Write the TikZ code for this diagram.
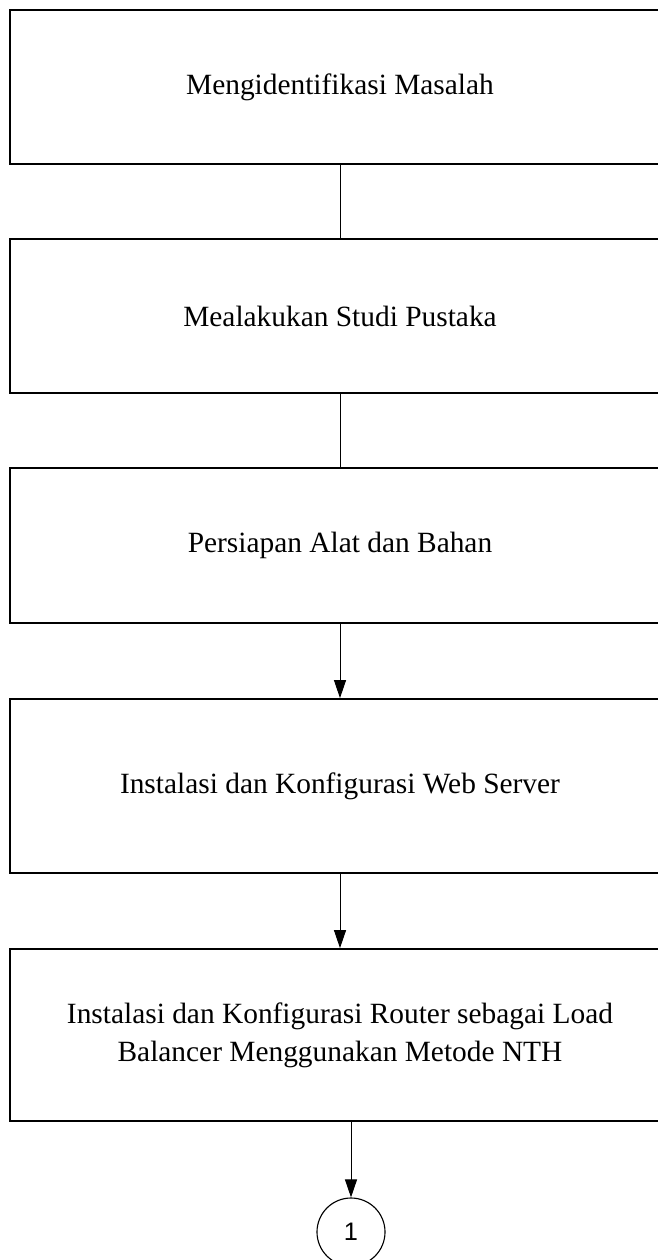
\documentclass[tikz,border=0pt]{standalone}
\usepackage{fontspec}
\setmainfont{Liberation Serif}
\newfontfamily\circfont{Liberation Sans}
\usetikzlibrary{arrows.meta,shapes,calc,positioning}

\begin{document}
\begin{tikzpicture}[x=0.025cm,y=-0.025cm]
		\tikzstyle{every node}=[font=\fontsize{20.9}{27}\selectfont]
		\tikzstyle{stepbox}=[draw, line width=1.2pt, rectangle, inner sep=0pt, minimum width=16.5cm, align=center]
		\tikzstyle{link}=[line width=0.7pt]
		\tikzstyle{arrowlink}=[line width=0.7pt, -{Triangle[width=0.3cm,length=0.45cm]}]
		\useasboundingbox (0,0) rectangle (657,1260);
		\node [stepbox, minimum height=3.85cm] (masalah) at (340,87) {Mengidentifikasi Masalah};
		\node [stepbox, minimum height=3.85cm] (studi) at (340,316) {Mealakukan Studi Pustaka};
		\node [stepbox, minimum height=3.875cm] (persiapan) at (340,545.5) {Persiapan Alat dan Bahan};
		\node [stepbox, minimum height=4.35cm] (webserver) at (340,786) {Instalasi dan Konfigurasi Web Server};
		\node [stepbox, minimum height=4.3cm, text depth=0.15cm] (router) at (340,1035) {Instalasi dan Konfigurasi Router sebagai Load\\Balancer Menggunakan Metode NTH};
		\node [draw, circle, line width=0.8pt, minimum size=1.7cm, inner sep=0pt, font=\circfont\fontsize{18}{20}\selectfont] (sambung) at (351,1232) {1};
		\coordinate (keluar) at ($(router.south)+(11,0)$);
		\draw [link] (masalah) -- (studi);
		\draw [link] (studi) -- (persiapan);
		\draw [arrowlink] (persiapan) -- (webserver);
		\draw [arrowlink] (webserver) -- (router);
		\draw [arrowlink] (keluar) -- (sambung);
	\end{tikzpicture}
\end{document}
